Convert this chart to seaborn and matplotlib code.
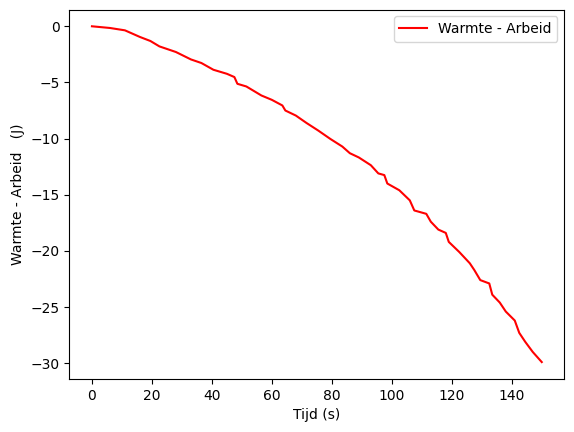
import pandas as pd
import seaborn as sns
import matplotlib.pyplot as plt

# tijd (s) en warmte - arbeid (J)
tijd = [0, 6, 11, 16, 19.5, 22.5, 28, 33, 36.5, 40.5, 45, 47.5, 48.5, 51.5,
        56.5, 60, 63.5, 64.5, 68, 71.5, 75.5, 79.5, 83.5, 86, 89, 93, 95.5,
        97.5, 98.5, 102.5, 106, 107.5, 111.5, 113, 115.5, 118, 119, 122.5,
        126, 127.5, 129.5, 132.5, 133.5, 136, 138, 141, 142.5, 144.5, 147, 150]
warmte_arbeid = [0, -0.15, -0.36, -0.95, -1.31, -1.79, -2.29, -2.95, -3.27,
                 -3.87, -4.23, -4.52, -5.12, -5.36, -6.16, -6.55, -7.05, -7.5,
                 -7.95, -8.6, -9.29, -10.03, -10.71, -11.3, -11.68, -12.37,
                 -13.1, -13.25, -14.0, -14.6, -15.5, -16.4, -16.7, -17.4,
                 -18.1, -18.4, -19.2, -20.1, -21.1, -21.7, -22.6, -22.9,
                 -23.9, -24.6, -25.4, -26.2, -27.3, -28.1, -29.0, -29.9]

df = pd.DataFrame({"t": tijd, "q_w": warmte_arbeid})

fig, ax = plt.subplots(figsize=(5.74, 4.32), dpi=100)
fig.subplots_adjust(left=0.121, right=0.983, top=0.978, bottom=0.123)

sns.lineplot(data=df, x="t", y="q_w", color="red", label="Warmte - Arbeid", ax=ax)
ax.set_xlabel("Tijd (s)")
ax.set_ylabel("Warmte - Arbeid   (J)")
ax.legend(loc="upper right")

fig.savefig("out.png", dpi=100)
